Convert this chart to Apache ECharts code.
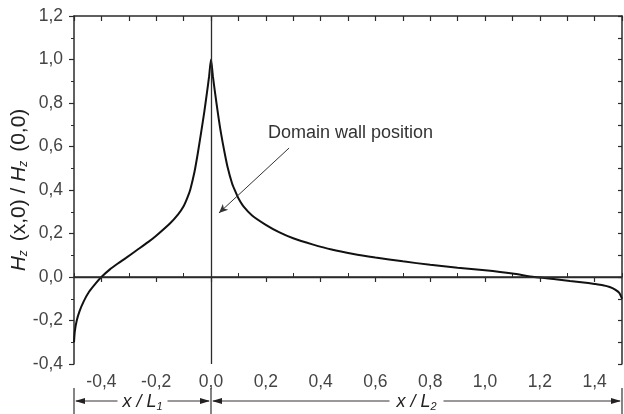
<!DOCTYPE html>
<html>
<head>
<meta charset="utf-8">
<script src="https://cdn.jsdelivr.net/npm/echarts@6/dist/echarts.min.js"></script>
<style>
  html, body { margin: 0; padding: 0; background: #fff; }
  #chart { width: 624px; height: 414px; }
</style>
</head>
<body>
<div id="chart"></div>
<script>
// curve, x in units of L1 (left) / L2 (right)
const xLeft = [-0.5, -0.497, -0.49, -0.48, -0.465, -0.445, -0.42, -0.4, -0.37, -0.34, -0.31, -0.27, -0.226, -0.2, -0.15, -0.12, -0.1, -0.085, -0.075, -0.06, -0.048, -0.036, -0.025, -0.015, -0.007, 0];
const yLeft = [-0.30, -0.25, -0.20, -0.158, -0.113, -0.068, -0.028, 0.0, 0.034, 0.062, 0.088, 0.124, 0.164, 0.19, 0.246, 0.288, 0.325, 0.368, 0.405, 0.485, 0.57, 0.665, 0.755, 0.845, 0.922, 1.0];
const xRight = [0.007, 0.015, 0.025, 0.036, 0.048, 0.06, 0.077, 0.09, 0.1, 0.12, 0.15, 0.2, 0.25, 0.3, 0.37, 0.44, 0.52, 0.6, 0.7, 0.8, 0.9, 1.0, 1.1, 1.18, 1.25, 1.31, 1.36, 1.4, 1.43, 1.455, 1.475, 1.49, 1.5];
const yRight = [0.922, 0.845, 0.755, 0.665, 0.582, 0.508, 0.43, 0.39, 0.362, 0.322, 0.283, 0.24, 0.205, 0.178, 0.15, 0.126, 0.106, 0.09, 0.072, 0.056, 0.043, 0.031, 0.016, 0.0, -0.009, -0.018, -0.025, -0.032, -0.038, -0.046, -0.058, -0.073, -0.1];

const xMajor = [-0.4, -0.2, 0.0, 0.2, 0.4, 0.6, 0.8, 1.0, 1.2, 1.4];
const xMinor = [-0.5, -0.3, -0.1, 0.1, 0.3, 0.5, 0.7, 0.9, 1.1, 1.3, 1.5];

const curve = [];
xLeft.forEach((x, i) => curve.push([x, yLeft[i]]));
xRight.forEach((x, i) => curve.push([x, yRight[i]]));

const fmt = v => v.toFixed(1).replace('.', ',');
const ink = '#2b2b2b';
const font = 'Liberation Sans, Arial, sans-serif';

const chart = echarts.init(document.getElementById('chart'));

const hiddenAxis = { show: true, axisLine: { show: false }, axisLabel: { show: false }, splitLine: { show: false } };

chart.setOption({
  animation: false,
  grid: { left: 74, right: 2, top: 16, bottom: 50, containLabel: false, outerBoundsMode: 'none' },
  xAxis: [
    {
      type: 'value', min: -0.5, max: 1.5, interval: 0.1,
      axisLine: { lineStyle: { color: ink, width: 1.5 } },
      axisTick: { customValues: xMajor, length: 5, lineStyle: { color: ink, width: 1.2 } },
      axisLabel: { customValues: xMajor, formatter: fmt, color: '#444', fontSize: 17.5, fontFamily: font, margin: 9 },
      splitLine: { show: false }
    },
    Object.assign({}, hiddenAxis, {
      type: 'value', min: -0.5, max: 1.5, interval: 0.1, position: 'bottom',
      axisTick: { customValues: xMinor, inside: true, length: 4, lineStyle: { color: ink, width: 1 } }
    }),
    {
      type: 'value', min: -0.5, max: 1.5, interval: 0.1, position: 'top',
      axisLine: { show: true, onZero: false, lineStyle: { color: ink, width: 1.5 } },
      axisTick: { inside: true, length: 5, lineStyle: { color: ink, width: 1.2 } },
      axisLabel: { show: false }, splitLine: { show: false }
    }
  ],
  yAxis: [
    {
      type: 'value', min: -0.4, max: 1.2, interval: 0.2,
      axisLine: { show: true, onZero: false, lineStyle: { color: ink, width: 1.5 } },
      axisTick: { length: 5, lineStyle: { color: ink, width: 1.2 } },
      minorTick: { show: true, splitNumber: 2, length: 3, lineStyle: { color: ink, width: 1 } },
      axisLabel: { formatter: fmt, color: '#444', fontSize: 17.5, fontFamily: font, margin: 11 },
      splitLine: { show: false },
      name: '{i|H}{s|z}{n| (x,0) / }{i|H}{s|z}{n| (0,0)}',
      nameLocation: 'middle', nameGap: 44, nameRotate: 90, nameMoveOverlap: false,
      nameTextStyle: {
        color: '#222', fontFamily: font, fontSize: 21,
        rich: {
          i: { fontStyle: 'italic', fontSize: 21, fontFamily: font, color: '#222' },
          s: { fontStyle: 'italic', fontSize: 12, fontFamily: font, color: '#222', verticalAlign: 'bottom', padding: [9, 3, 0, 0] },
          n: { fontSize: 21, fontFamily: font, color: '#222' }
        }
      }
    },
    {
      type: 'value', min: -0.4, max: 1.2, interval: 0.1, position: 'right',
      axisLine: { show: true, onZero: false, lineStyle: { color: ink, width: 1.5 } },
      axisTick: { inside: true, length: 4, lineStyle: { color: ink, width: 1.2 } },
      axisLabel: { show: false }, splitLine: { show: false }
    }
  ],
  series: [
    {
      type: 'line', data: curve, symbol: 'none', smooth: 0.25,
      lineStyle: { color: '#111', width: 2 },
      markLine: {
        silent: true, symbol: 'none', label: { show: false },
        lineStyle: { color: ink, width: 1.3, type: 'solid' },
        data: [{ xAxis: 0 }, { yAxis: 0 }]
      }
    },
    {
      type: 'line', data: [], symbol: 'none',
      markLine: {
        silent: true, symbol: ['none', 'arrow'], symbolSize: [6, 9],
        label: { show: false },
        lineStyle: { color: '#333', width: 1, type: 'solid' },
        data: [[{ coord: [0.285, 0.593] }, { coord: [0.029, 0.294] }]]
      }
    }
  ]
});

// annotation text and the bottom span markers: x / L1 and x / L2
const px = v => chart.convertToPixel({ xAxisIndex: 0 }, v);
const xa = px(-0.5), xb = px(0), xc = px(1.5);
const yArr = 401;
const g = [{
  type: 'text', x: 268, y: 133,
  style: { text: 'Domain wall position', fill: '#333', fontSize: 18, fontFamily: font, fontWeight: 'normal', verticalAlign: 'middle' }
}];
[xa, xb, xc].forEach(x => g.push({ type: 'line', shape: { x1: x, y1: 388, x2: x, y2: 414 }, style: { stroke: '#333', lineWidth: 1.2 } }));
function arrowSpan(x1, x2, sub, half) {
  const mid = (x1 + x2) / 2;
  g.push({ type: 'line', shape: { x1: x1 + 2, y1: yArr, x2: mid - half, y2: yArr }, style: { stroke: '#333', lineWidth: 1 } });
  g.push({ type: 'line', shape: { x1: mid + half, y1: yArr, x2: x2 - 2, y2: yArr }, style: { stroke: '#333', lineWidth: 1 } });
  g.push({ type: 'polygon', shape: { points: [[x1 + 1, yArr], [x1 + 11, yArr - 3], [x1 + 11, yArr + 3]] }, style: { fill: '#222' } });
  g.push({ type: 'polygon', shape: { points: [[x2 - 1, yArr], [x2 - 11, yArr - 3], [x2 - 11, yArr + 3]] }, style: { fill: '#222' } });
  g.push({
    type: 'text', x: mid, y: yArr + 1,
    style: {
      text: '{i|x / L}{s|' + sub + '}', align: 'center', verticalAlign: 'middle',
      rich: {
        i: { fontStyle: 'italic', fontSize: 18, fontFamily: font, fill: '#222' },
        s: { fontStyle: 'italic', fontSize: 11, fontFamily: font, fill: '#222', verticalAlign: 'bottom', padding: [9, 0, 0, 0] }
      }
    }
  });
}
arrowSpan(xa, xb, '1', 25);
arrowSpan(xb, xc, '2', 27);
chart.setOption({ graphic: g });
</script>
</body>
</html>
